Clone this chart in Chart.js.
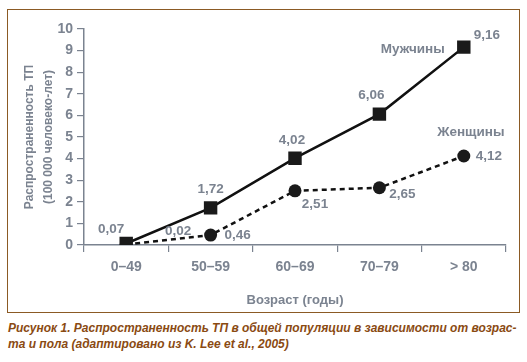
<!DOCTYPE html>
<html>
<head>
<meta charset="utf-8">
<script src="https://cdn.jsdelivr.net/npm/chart.js@4.4.1/dist/chart.umd.min.js"></script>
<style>
  html, body { margin: 0; padding: 0; background: #fff; }
  body { width: 527px; height: 362px; position: relative; overflow: hidden; }
  #frame {
    position: absolute; left: 7px; top: 9px; width: 511px; height: 302px;
    border: 1.5px solid #8b5a24;
  }
  #frame canvas { position: absolute; left: 0; top: 0; }
  #caption {
    position: absolute; left: 8px; top: 320px; width: 520px; white-space: nowrap;
    font: italic bold 12px "Liberation Sans", Arial, sans-serif;
    color: #8a4a12; line-height: 16px;
  }
</style>
</head>
<body>
<div id="frame"><canvas id="chart" width="511" height="302"></canvas></div>
<div id="caption">Рисунок 1. Распространенность ТП в общей популяции в зависимости от возрас-<br>та и пола (адаптировано из K. Lee et al., 2005)</div>
<script>
// data
const categories = ['0–49', '50–59', '60–69', '70–79', '> 80'];
const menValues = [0.07, 1.72, 4.02, 6.06, 9.16];
const womenValues = [0.02, 0.46, 2.51, 2.65, 4.12];
const yTicks = [0, 1, 2, 3, 4, 5, 6, 7, 8, 9, 10];

const GRAY = '#7b8390';
const FONT = '"Liberation Sans", Arial, sans-serif';

// label offsets relative to each point (pixels)
const menLabelOffsets = [[-15, -14], [0, -19], [-3, -18], [-8, -19], [23, -12]];
const womenLabelOffsets = [[52, -13], [27, 0], [20, 13], [23, 7], [25, 0]];

const valueLabels = {
    id: 'valueLabels',
    afterDatasetsDraw(chart) {
        const ctx = chart.ctx;
        ctx.save();
        ctx.fillStyle = GRAY;
        ctx.font = 'bold 13.5px ' + FONT;
        ctx.textAlign = 'center';
        ctx.textBaseline = 'middle';
        const offsets = [menLabelOffsets, womenLabelOffsets];
        chart.data.datasets.forEach((ds, i) => {
            const meta = chart.getDatasetMeta(i);
            meta.data.forEach((pt, j) => {
                const txt = ds.data[j].toFixed(2).replace('.', ',');
                ctx.fillText(txt, pt.x + offsets[i][j][0], pt.y + offsets[i][j][1]);
            });
            const last = meta.data[meta.data.length - 1];
            const nameOff = i === 0 ? [-51, 2] : [7, -24];
            ctx.fillText(ds.label, last.x + nameOff[0], last.y + nameOff[1]);
        });
        ctx.restore();
    }
};

new Chart(document.getElementById('chart'), {
    type: 'line',
    data: {
        labels: categories,
        datasets: [{
            label: 'Мужчины',
            data: menValues,
            borderColor: '#111',
            borderWidth: 2.5,
            pointStyle: 'rect',
            pointRadius: 9.5,
            pointBackgroundColor: '#1a1a1a',
            pointBorderColor: '#1a1a1a',
            pointBorderWidth: 0,
            tension: 0
        }, {
            label: 'Женщины',
            data: womenValues,
            borderColor: '#111',
            borderWidth: 2.5,
            borderDash: [5, 4],
            pointStyle: 'circle',
            pointRadius: 6.5,
            pointBackgroundColor: '#1a1a1a',
            pointBorderColor: '#1a1a1a',
            pointBorderWidth: 0,
            tension: 0
        }]
    },
    options: {
        responsive: false,
        animation: false,
        layout: { padding: { top: 19, right: 13, left: 8, bottom: 0 } },
        plugins: {
            legend: { display: false },
            tooltip: { enabled: false }
        },
        scales: {
            x: {
                offset: true,
                grid: { offset: true, drawOnChartArea: false, tickLength: 7, color: GRAY, lineWidth: 1.2 },
                border: { color: GRAY, width: 1.5 },
                ticks: { color: GRAY, font: { family: FONT, size: 14, weight: 'bold' }, padding: 7 },
                title: {
                    display: true, text: 'Возраст (годы)', color: GRAY,
                    font: { family: FONT, size: 13, weight: 'bold' }, padding: { top: 7 }
                },
                afterFit(scale) { scale.height = 67; }
            },
            y: {
                min: 0, max: 10,
                afterBuildTicks(scale) { scale.ticks = yTicks.map(v => ({ value: v })); },
                grid: { drawOnChartArea: false, tickLength: 7, color: GRAY, lineWidth: 1.2 },
                border: { color: GRAY, width: 1.5 },
                ticks: { color: GRAY, font: { family: FONT, size: 14, weight: 'bold' }, padding: 4 },
                title: {
                    display: true, text: ['Распространенность ТП', '(100 000 человеко-лет)'], color: GRAY,
                    font: { family: FONT, size: 12, weight: 'bold', lineHeight: 1.6 }, padding: { bottom: 4 }
                },
                afterFit(scale) { scale.width = 68; }
            }
        }
    },
    plugins: [valueLabels]
});
</script>
</body>
</html>
